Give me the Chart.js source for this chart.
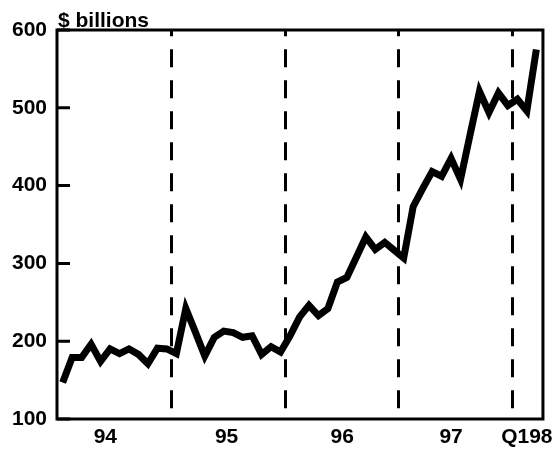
<!DOCTYPE html>
<html>
<head>
<meta charset="utf-8">
<script src="https://cdn.jsdelivr.net/npm/chart.js@4/dist/chart.umd.min.js"></script>
<style>
  html, body { margin: 0; padding: 0; background: #fff; }
  #wrap { width: 559px; height: 453px; }
</style>
</head>
<body>
<div id="wrap"><canvas id="graph"></canvas></div>
<script>
// monthly values, Jan 1994 .. Mar 1998 ($ billions)
let values = [
  147, 179, 179, 196, 174, 190, 184, 190, 183, 171, 191, 190,
  184, 242, 212, 181, 205, 213, 211, 205, 207, 183, 193, 186,
  207, 231, 246, 233, 242, 276, 282, 308, 334, 318, 327, 317,
  307, 373, 396, 418, 412, 435, 408, 465, 521, 494, 519, 503,
  511, 496, 575
]

// month index where each new year starts (dashed lines)
let yearBreaks = [11.5, 23.5, 35.5, 47.5]
// x labels and the month index they sit under
let xLabels = ['94', '95', '96', '97', 'Q198']
let xLabelAt = [4.5, 17.3, 29.5, 41, 49]

let yTicks = [100, 200, 300, 400, 500, 600]

let points = values.map(function(v, i) { return { x: i, y: v } })

let font = "'Liberation Sans', Arial, sans-serif"

let framePlugin = {
  id: 'frame',
  afterDraw: function(chart) {
    let ctx = chart.ctx
    let a = chart.chartArea
    let y = chart.scales.y
    ctx.save()
    ctx.strokeStyle = '#000'
    ctx.lineWidth = 3
    // small inward ticks on the value axis
    ctx.beginPath()
    y.ticks.forEach(function(t) {
      let py = y.getPixelForValue(t.value)
      ctx.moveTo(a.left, py)
      ctx.lineTo(a.left + 13, py)
    })
    ctx.stroke()
    ctx.strokeRect(a.left, a.top, a.right - a.left, a.bottom - a.top)
    // unit label
    ctx.fillStyle = '#000'
    ctx.font = 'bold 21px ' + font
    ctx.textAlign = 'left'
    ctx.textBaseline = 'alphabetic'
    ctx.fillText('$ billions', a.left + 1, a.top - 3)
    ctx.restore()
  }
}

let graph = document.getElementById('graph').getContext('2d')

new Chart(graph, {
  type: 'line',
  data: {
    datasets: [
      {
        data: points,
        borderColor: '#000',
        borderWidth: 7,
        borderJoinStyle: 'miter',
        pointRadius: 0,
        tension: 0,
        fill: false
      }
    ]
  },
  options: {
    responsive: true,
    maintainAspectRatio: false,
    animation: false,
    layout: { padding: { left: 0, top: 30, right: 14, bottom: 0 } },
    plugins: {
      legend: { display: false },
      tooltip: { enabled: false }
    },
    scales: {
      x: {
        type: 'linear',
        min: -0.6,
        max: 50.7,
        afterBuildTicks: function(scale) {
          let all = yearBreaks.concat(xLabelAt).sort(function(a, b) { return a - b })
          scale.ticks = all.map(function(v) { return { value: v } })
        },
        afterFit: function(scale) { scale.height = 34 },
        grid: {
          drawTicks: false,
          lineWidth: 3,
          color: function(c) {
            return c.tick && yearBreaks.indexOf(c.tick.value) >= 0 ? '#000' : 'rgba(0,0,0,0)'
          }
        },
        border: { display: false, dash: [18, 13], dashOffset: 11.7 },
        ticks: {
          autoSkip: false,
          maxRotation: 0,
          padding: 6,
          color: '#000',
          font: { family: font, size: 21, weight: 'bold' },
          callback: function(v) {
            let k = xLabelAt.indexOf(v)
            return k >= 0 ? xLabels[k] : ''
          }
        }
      },
      y: {
        min: 100,
        max: 600,
        afterBuildTicks: function(scale) {
          scale.ticks = yTicks.map(function(v) { return { value: v } })
        },
        afterFit: function(scale) { scale.width = 57 },
        grid: { display: false, drawTicks: false },
        border: { display: false },
        ticks: {
          padding: 10,
          color: '#000',
          font: { family: font, size: 21, weight: 'bold' }
        }
      }
    }
  },
  plugins: [framePlugin]
})
</script>
</body>
</html>
